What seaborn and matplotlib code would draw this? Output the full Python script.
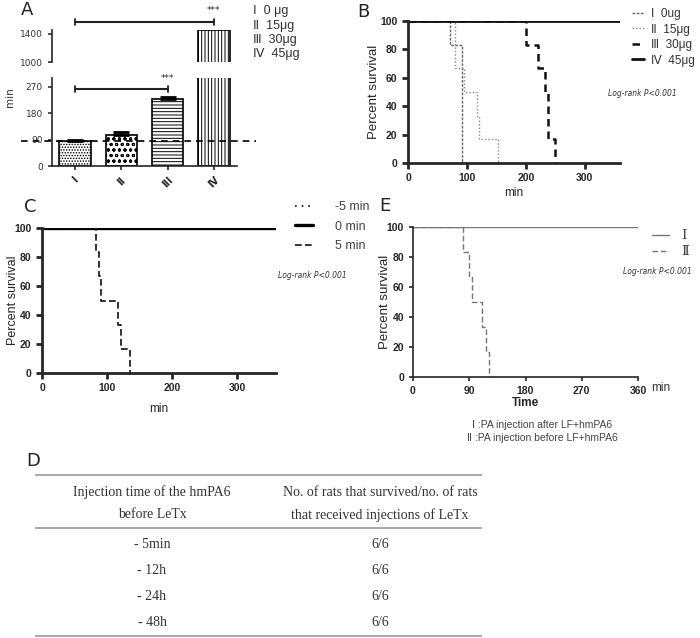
import seaborn as sns
import pandas as pd
import matplotlib.pyplot as plt

W, H = 700, 638

# panel A: survival time per dose
groups = ["I", "II", "III", "IV"]
surv_min = [85, 106, 229, 1445]
surv_err = [3, 9, 5, 0]
bar_hatch = ["......", "ooo", "-----", "|||||"]
dose_text = ["Ⅰ  0 μg", "Ⅱ  15μg", "Ⅲ  30μg", "Ⅳ  45μg"]

# panel B: dose groups, Kaplan-Meier steps
b_labels = ["Ⅰ  0ug", "Ⅱ  15μg", "Ⅲ  30μg", "Ⅳ  45μg"]
b_times = [[0, 72, 91],
           [0, 80, 95, 117, 121, 152],
           [0, 200, 221, 232, 237, 250],
           [0, 360]]
b_surv = [[100, 83.3, 0],
          [100, 66.7, 50, 33.3, 16.7, 0],
          [100, 83.3, 66.7, 50, 16.7, 0],
          [100, 100]]

# panel C: injection time
c_labels = ["-5 min", "0 min", "5 min"]
c_times = [[0, 360], [0, 360], [0, 83, 87, 91, 117, 121, 135]]
c_surv = [[100, 100], [100, 100], [100, 83.3, 66.7, 50, 33.3, 16.7, 0]]

# panel E
e_labels = ["Ⅰ", "Ⅱ"]
e_times = [[0, 360], [0, 80, 90, 94, 110, 116, 121]]
e_surv = [[100, 100], [100, 83.3, 66.7, 50, 33.3, 16.7, 0]]

# panel D table
d_header1 = ["Injection time of the hmPA6", "before LeTx"]
d_header2 = ["No. of rats that survived/no. of rats", "that received injections of LeTx"]
d_times = ["- 5min", "- 12h", "- 24h", "- 48h"]
d_ratio = ["6/6", "6/6", "6/6", "6/6"]

sns.set_style("ticks")
plt.rcParams["font.family"] = ["DejaVu Sans"]
plt.rcParams["hatch.linewidth"] = 0.7
SANS = ["Liberation Sans", "DejaVu Sans"]
SERIF = ["Liberation Serif", "DejaVu Serif"]

fig = plt.figure(figsize=(W / 100, H / 100), dpi=100)


def box(l, t, r, b):
    return [l / W, 1 - b / H, (r - l) / W, (b - t) / H]


def km_panel(ax, times, survs, labels, styles, xticks):
    for t, s, lab, st in zip(times, survs, labels, styles):
        df = pd.DataFrame({"t": t, "s": s})
        sns.lineplot(data=df, x="t", y="s", ax=ax, drawstyle="steps-post", estimator=None,
                     label=lab, **st)
    ax.set_xlim(0, 360)
    ax.set_ylim(0, 100)
    ax.set_xticks(xticks)
    ax.set_yticks([0, 20, 40, 60, 80, 100])
    sns.despine(ax=ax)
    for lab in ax.get_xticklabels() + ax.get_yticklabels():
        lab.set_fontweight("bold")
        lab.set_family(SANS)
        lab.set_fontsize(7.5)
    ax.get_legend().remove()


# ---------- A ----------
axA_top = fig.add_axes(box(52, 30, 237, 62))
axA = fig.add_axes(box(52, 78, 237, 166))
for ax in (axA_top, axA):
    sns.barplot(x=groups, y=surv_min, ax=ax, color="white", edgecolor="black",
                linewidth=1.2, width=0.68, saturation=1)
    for p, h in zip(ax.patches, bar_hatch):
        p.set_hatch(h)
    ax.set_xlim(-0.5, 3.5)
axA.errorbar(range(3), surv_min[:3], yerr=[[0, 0, 0], surv_err[:3]], fmt="none",
             ecolor="black", capsize=6, elinewidth=1.2, capthick=2)
axA.set_ylim(0, 300)
axA.set_yticks([0, 90, 180, 270])
axA_top.set_ylim(1000, 1450)
axA_top.set_yticks([1000, 1400])
axA_top.set_xticks([])
sns.despine(ax=axA)
sns.despine(ax=axA_top, bottom=True)
for ax in (axA_top, axA):
    ax.spines["left"].set_linewidth(1.2)
    ax.tick_params(axis="y", labelsize=6.5, colors="#333", width=1.2, length=3)
axA.spines["bottom"].set_linewidth(1.2)
axA.set_xticks(range(4))
axA.set_xticklabels(groups, rotation=45, fontweight="bold", fontsize=7)
axA.tick_params(axis="x", width=1.2, length=3)
axA.set_xlabel("")
axA.axhline(surv_min[0], xmin=-0.17, xmax=1.1, clip_on=False, color="black",
            lw=1.2, dashes=(4, 3))
# significance brackets
axA.plot([0, 2], [262, 262], color="#222", lw=1.5, clip_on=False)
axA.plot([0, 0, None, 2, 2], [252, 272, None, 252, 272], color="#222", lw=1.3, clip_on=False)
axA.text(2, 282, "***", ha="center", va="bottom", fontsize=6.5)
axA_top.plot([0, 3], [1562, 1562], color="#222", lw=1.5, clip_on=False)
axA_top.plot([0, 0, None, 3, 3], [1520, 1604, None, 1520, 1604], color="#222", lw=1.3,
             clip_on=False)
axA_top.text(3, 1660, "***", ha="center", va="bottom", fontsize=6.5)

# ---------- B ----------
axB = fig.add_axes(box(408, 21, 620, 163))
b_styles = [dict(color="#666", lw=1.0, linestyle=(0, (2, 1))),
            dict(color="#888", lw=1.0, linestyle=(0, (1, 1.5))),
            dict(color="#111", lw=1.8, linestyle=(0, (3, 2))),
            dict(color="#111", lw=2.0, linestyle="-")]
km_panel(axB, b_times, b_surv, b_labels, b_styles, [0, 100, 200, 300])
for s in ("left", "bottom"):
    axB.spines[s].set_linewidth(2)
axB.tick_params(width=2, length=4)
axB.set_ylabel("Percent survival", fontsize=9.5, family=SANS)
axB.yaxis.set_label_coords(-0.13, 0.5)
axB.set_xlabel("min", fontsize=8.5, family=SANS)
axB.xaxis.set_label_coords(0.5, -0.17)
hB, lB = axB.get_legend_handles_labels()
fig.legend(hB, lB, loc="upper left", bbox_to_anchor=(632 / W, 1 - 8 / H), frameon=False,
           borderpad=0, borderaxespad=0, handlelength=1.0, handletextpad=0.6,
           labelspacing=0.3, prop={"family": SANS, "size": 8.5}, labelcolor="#333")

# ---------- C ----------
axC = fig.add_axes(box(42, 228, 276, 373))
c_styles = [dict(color="#111", lw=1.2, linestyle=(0, (1, 3))),
            dict(color="#000", lw=2.4, linestyle="-"),
            dict(color="#111", lw=1.2, linestyle=(0, (4, 2)))]
km_panel(axC, c_times, c_surv, c_labels, c_styles, [0, 100, 200, 300])
for s in ("left", "bottom"):
    axC.spines[s].set_linewidth(2)
axC.tick_params(width=2, length=4)
axC.set_ylabel("Percent survival", fontsize=9, family=SANS)
axC.yaxis.set_label_coords(-0.1, 0.5)
axC.set_xlabel("min", fontsize=8.5, family=SANS)
axC.xaxis.set_label_coords(0.5, -0.21)
hC, lC = axC.get_legend_handles_labels()
fig.legend(hC, lC, loc="upper left", bbox_to_anchor=(295 / W, 1 - 201 / H), frameon=False,
           borderpad=0, borderaxespad=0, handlelength=1.4, handletextpad=1.8,
           labelspacing=0.6, prop={"family": SANS, "size": 9}, labelcolor="#444")

# ---------- E ----------
axE = fig.add_axes(box(413, 227, 638, 377))
e_styles = [dict(color="#777", lw=1.0, linestyle="-"),
            dict(color="#777", lw=1.0, linestyle=(0, (4, 2)))]
km_panel(axE, e_times, e_surv, e_labels, e_styles, [0, 90, 180, 270, 360])
for s in ("left", "bottom"):
    axE.spines[s].set_linewidth(1.2)
axE.tick_params(width=1.2, length=3)
axE.set_ylabel("Percent survival", fontsize=9.5, family=SANS)
axE.yaxis.set_label_coords(-0.1, 0.5)
axE.set_xlabel("Time", fontsize=8.5, family=SANS, fontweight="bold")
axE.xaxis.set_label_coords(0.5, -0.13)
hE, lE = axE.get_legend_handles_labels()
fig.legend(hE, lE, loc="upper left", bbox_to_anchor=(652 / W, 1 - 230 / H), frameon=False,
           borderpad=0, borderaxespad=0, handlelength=1.3, handletextpad=0.9,
           labelspacing=0.3, prop={"family": SERIF, "size": 9.5}, labelcolor="#444")

# ---------- overlay text (pixel coords) + table D ----------
ov = fig.add_axes([0, 0, 1, 1])
ov.set_xlim(0, W)
ov.set_ylim(H, 0)
ov.set_axis_off()
for x, y, s in [(27, 10, "A"), (363, 12, "B"), (30, 207, "C"), (385, 206, "E"), (33, 461, "D")]:
    ov.text(x, y, s, fontsize=13, ha="center", va="center", color="#222")
for i, s in enumerate(dose_text):
    ov.text(253, 11 + 14.5 * i, s, fontsize=9, family=SANS, va="center", color="#333")
ov.text(10, 97, "min", rotation=90, fontsize=7.5, ha="center", va="center", color="#333")
for x, y in [(608, 94), (278, 276), (623, 272)]:
    ov.text(x, y, "Log-rank P<0.001", fontsize=5.5, style="italic", va="center", color="#333")
ov.text(651, 388, "min", fontsize=8.5, family=SANS, va="center", color="#333")
ov.text(542, 425, "Ⅰ :PA injection after LF+hmPA6", fontsize=7.5, ha="center", va="center",
        color="#444", family=SANS)
ov.text(542, 438, "Ⅱ :PA injection before LF+hmPA6", fontsize=7.5, ha="center", va="center",
        color="#444", family=SANS)

serif = {"family": SERIF, "fontsize": 10, "ha": "center", "va": "center", "color": "#333"}
ov.hlines([475, 528, 636], 35, 482, color="#999", lw=1.2)
for i in range(2):
    ov.text(152, 492 + 23 * i, d_header1[i], **serif)
    ov.text(380, 492 + 23 * i, d_header2[i], **serif)
for i, (a, b) in enumerate(zip(d_times, d_ratio)):
    ov.text(152, 544 + 26 * i, a, **serif)
    ov.text(380, 544 + 26 * i, b, **serif)

fig.savefig("out.png", dpi=100)
